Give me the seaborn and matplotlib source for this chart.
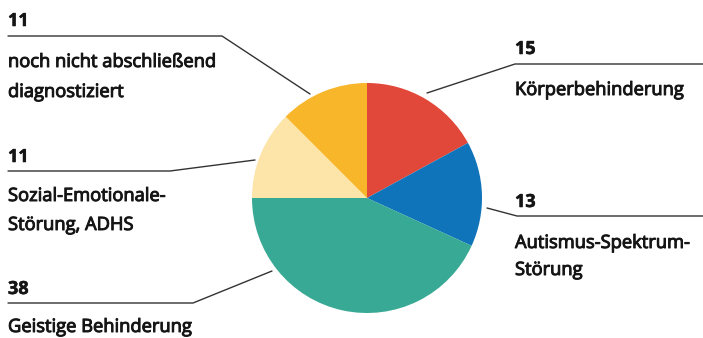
import matplotlib
matplotlib.use("Agg")
import matplotlib.pyplot as plt
import matplotlib.patheffects as pe
import seaborn as sns

# Data
categories = ["Körperbehinderung", "Autismus-Spektrum-\nStörung", "Geistige Behinderung",
              "Sozial-Emotionale-\nStörung, ADHS", "noch nicht abschließend\ndiagnostiziert"]
values = [15, 13, 38, 11, 11]
colors = ["#E2483A", "#0F74BA", "#38A994", "#FDE4A8", "#F8B62A"]

sns.set_theme(style="white")
plt.rcParams["font.family"] = ["Open Sans", "DejaVu Sans"]

W, H = 703, 338
fig = plt.figure(figsize=(W / 100, H / 100), dpi=100)
ax = fig.add_axes([0, 0, 1, 1])

pal = sns.color_palette(colors)
ax.pie(values, colors=pal, startangle=270, counterclock=True,
       center=(367, 198), radius=115, frame=True,
       wedgeprops=dict(linewidth=0))
ax.set_xlim(0, W)
ax.set_ylim(H, 0)
ax.set_aspect("equal")
ax.axis("off")

lc = "#333333"
lw = 1.0
# leader lines
ax.plot([8, 222, 310], [36, 36, 94], color=lc, lw=lw)
ax.plot([8, 170, 255], [171, 171, 160], color=lc, lw=lw)
ax.plot([8, 193, 272], [303, 303, 271], color=lc, lw=lw)
ax.plot([703, 515, 427], [64, 64, 93], color=lc, lw=lw)
ax.plot([703, 517, 487], [216, 216, 208], color=lc, lw=lw)

tc = "#151515"
num_kw = dict(fontsize=13, fontweight="bold", color=tc, va="center", ha="left",
              path_effects=[pe.withStroke(linewidth=0.4, foreground=tc)])
lab_kw = dict(fontsize=13.2, color=tc, va="center", ha="left",
              path_effects=[pe.withStroke(linewidth=0.7, foreground=tc)])

# left labels
ax.text(8, 21, str(values[4]), **num_kw)
ax.text(8, 62, "noch nicht abschließend", **lab_kw)
ax.text(8, 92, "diagnostiziert", **lab_kw)

ax.text(8, 157, str(values[3]), **num_kw)
ax.text(8, 196, "Sozial-Emotionale-", **lab_kw)
ax.text(8, 225, "Störung, ADHS", **lab_kw)

ax.text(8, 289, str(values[2]), **num_kw)
ax.text(8, 327, "Geistige Behinderung", **lab_kw)

# right labels
ax.text(515, 49, str(values[0]), **num_kw)
ax.text(515, 90, "Körperbehinderung", **lab_kw)

ax.text(515, 202, str(values[1]), **num_kw)
ax.text(515, 243, "Autismus-Spektrum-", **lab_kw)
ax.text(515, 270, "Störung", **lab_kw)

fig.savefig("out.png", dpi=100, facecolor="white")
